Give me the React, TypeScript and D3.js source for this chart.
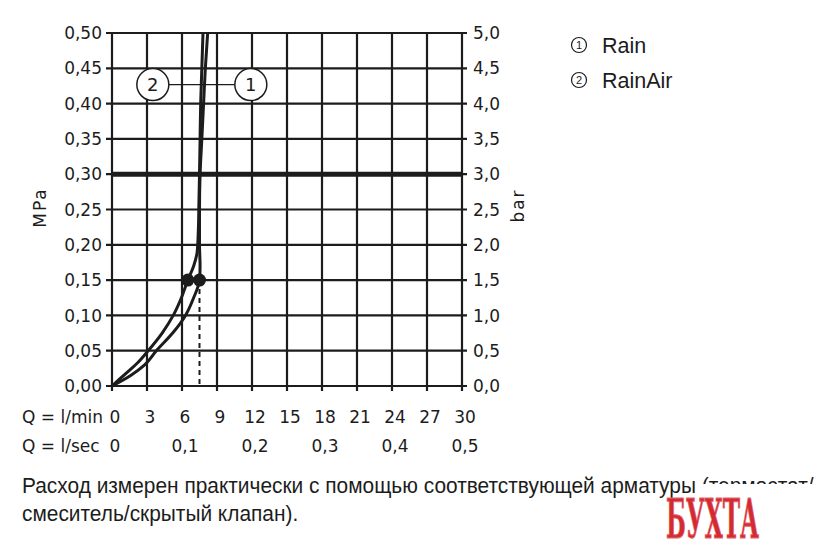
import React from "react";
import * as d3 from "d3";

const pressureTicks = [0, 0.05, 0.1, 0.15, 0.2, 0.25, 0.3, 0.35, 0.4, 0.45, 0.5];
const mpaLabels = ["0,00", "0,05", "0,10", "0,15", "0,20", "0,25", "0,30", "0,35", "0,40", "0,45", "0,50"];
const barLabels = ["0,0", "0,5", "1,0", "1,5", "2,0", "2,5", "3,0", "3,5", "4,0", "4,5", "5,0"];
const flowTicks = [0, 3, 6, 9, 12, 15, 18, 21, 24, 27, 30];
const flowLabels = ["0", "3", "6", "9", "12", "15", "18", "21", "24", "27", "30"];
const secTicks = [0, 0.1, 0.2, 0.3, 0.4, 0.5];
const secLabels = ["0", "0,1", "0,2", "0,3", "0,4", "0,5"];
const thickLine = 0.3;

// [flow l/min, pressure MPa]
const rainAir: [number, number][] = [
  [0, 0], [1.2, 0.018], [2.2, 0.033], [3.1, 0.05], [4.3, 0.075], [5.25, 0.1],
  [5.95, 0.125], [6.5, 0.15], [7.0, 0.17], [7.3, 0.19], [7.4, 0.22], [7.45, 0.26],
  [7.5, 0.3], [7.55, 0.35], [7.6, 0.4], [7.7, 0.45], [7.8, 0.5],
];
const rain: [number, number][] = [
  [0, 0], [1.6, 0.015], [2.8, 0.03], [3.8, 0.05], [5.2, 0.075], [6.3, 0.1],
  [7.0, 0.125], [7.5, 0.15], [7.55, 0.17], [7.5, 0.2], [7.5, 0.25], [7.55, 0.3],
  [7.7, 0.35], [7.85, 0.4], [8.0, 0.45], [8.2, 0.5],
];
const markers: [number, number][] = [[6.5, 0.15], [7.5, 0.15]];
const dashedAt: [number, number] = [7.5, 0.15];

const legendItems = [{ n: "1", label: "Rain" }, { n: "2", label: "RainAir" }];
const callouts = [{ n: "2", q: 3.5, p: 0.427 }, { n: "1", q: 11.9, p: 0.427 }];
const captionLines = [
  "Расход измерен практически с помощью соответствующей арматуры (термостат/",
  "смеситель/скрытый клапан).",
];

const W = 840, H = 550;
const INK = "#1c1c1c";
const tickFont = "'DejaVu Sans', sans-serif";
const textFont = "'Liberation Sans', Arial, sans-serif";

export default function App() {
  const x = d3.scaleLinear().domain([0, 30]).range([112, 462]);
  const y = d3.scaleLinear().domain([0, 0.5]).range([386, 33]);
  const line = d3.line<[number, number]>()
    .x((d) => x(d[0]))
    .y((d) => y(d[1]))
    .curve(d3.curveMonotoneY);

  return (
    <svg width={W} height={H} style={{ position: "absolute", left: 0, top: 0, background: "#fff" }}>
      <rect x={0} y={0} width={W} height={H} fill="#fff" />
      {/* vertical grid */}
      {flowTicks.map((q) => (
        <line key={"v" + q} x1={x(q)} x2={x(q)} y1={y(0.5)} y2={y(0) + 5} stroke={INK} strokeWidth={2.2} />
      ))}
      {/* horizontal grid */}
      {pressureTicks.map((p) => (
        <line key={"h" + p} x1={x(0) - 6} x2={x(30) + 5} y1={y(p)} y2={y(p)} stroke={INK} strokeWidth={2.2} />
      ))}
      <line x1={x(0)} x2={x(30)} y1={y(thickLine)} y2={y(thickLine)} stroke={INK} strokeWidth={5} />

      {/* left labels */}
      {pressureTicks.map((p, i) => (
        <text key={"l" + p} x={x(0) - 10} y={y(p)} dy="0.36em" textAnchor="end" fontFamily={tickFont} fontSize={17} fill={INK}>
          {mpaLabels[i]}
        </text>
      ))}
      {pressureTicks.map((p, i) => (
        <text key={"r" + p} x={x(30) + 11} y={y(p)} dy="0.36em" textAnchor="start" fontFamily={tickFont} fontSize={17} fill={INK}>
          {barLabels[i]}
        </text>
      ))}
      <text transform={`translate(46,${y(0.25) - 2}) rotate(-90)`} textAnchor="middle" fontFamily={tickFont} fontSize={17} letterSpacing={2} fill={INK}>MPa</text>
      <text transform={`translate(524,${y(0.25) - 4}) rotate(-90)`} textAnchor="middle" fontFamily={tickFont} fontSize={17} letterSpacing={2} fill={INK}>bar</text>

      {/* bottom labels */}
      <text x={22} y={417} dy="0.36em" fontFamily={tickFont} fontSize={17} fill={INK}>Q = l/min</text>
      <text x={22} y={446} dy="0.36em" fontFamily={tickFont} fontSize={17} fill={INK}>Q = l/sec</text>
      {flowTicks.map((q, i) => (
        <text key={"b" + q} x={x(q) + 3} y={417} dy="0.36em" textAnchor="middle" fontFamily={tickFont} fontSize={17} fill={INK}>
          {flowLabels[i]}
        </text>
      ))}
      {secTicks.map((s, i) => (
        <text key={"s" + s} x={x(s * 60) + 3} y={446} dy="0.36em" textAnchor="middle" fontFamily={tickFont} fontSize={17} fill={INK}>
          {secLabels[i]}
        </text>
      ))}

      {/* dashed line */}
      <line x1={x(dashedAt[0])} x2={x(dashedAt[0])} y1={y(dashedAt[1])} y2={y(0)} stroke={INK} strokeWidth={2} strokeDasharray="5,4" />

      {/* callouts */}
      <line x1={x(callouts[0].q) + 16} x2={x(callouts[1].q) - 16} y1={y(callouts[0].p)} y2={y(callouts[1].p)} stroke={INK} strokeWidth={1.3} />
      {callouts.map((c) => (
        <g key={"c" + c.n}>
          <circle cx={x(c.q)} cy={y(c.p)} r={16} fill="#fff" stroke={INK} strokeWidth={1.5} />
          <text x={x(c.q)} y={y(c.p)} dy="0.36em" textAnchor="middle" fontFamily={tickFont} fontSize={18} fill={INK}>{c.n}</text>
        </g>
      ))}

      {/* curves */}
      <path d={line(rainAir) || ""} fill="none" stroke={INK} strokeWidth={3} />
      <path d={line(rain) || ""} fill="none" stroke={INK} strokeWidth={3} />
      {markers.map((m, i) => (
        <circle key={"m" + i} cx={x(m[0])} cy={y(m[1])} r={6.5} fill={INK} />
      ))}

      {/* legend */}
      {legendItems.map((it, i) => (
        <g key={"lg" + it.n} transform={`translate(579,${45 + i * 35})`}>
          <circle cx={0} cy={0} r={7.5} fill="none" stroke={INK} strokeWidth={1.2} />
          <text x={0} y={0} dy="0.36em" textAnchor="middle" fontFamily={textFont} fontSize={11} fill={INK}>{it.n}</text>
          <text x={23} y={0} dy="0.36em" fontFamily={textFont} fontSize={21.5} fill={INK}>{it.label}</text>
        </g>
      ))}

      {/* caption */}
      {captionLines.map((t, i) => (
        <text key={"cap" + i} transform={`translate(22,${493 + i * 27.5}) scale(0.95,1)`} x={0} y={0} fontFamily={textFont} fontSize={22} fill={INK}>{t}</text>
      ))}

      {/* watermark */}
      <rect x={697} y={484} width={140} height={64} fill="#fff" />
      <text x={712.5} y={538} textAnchor="middle" fontFamily="'DejaVu Serif', serif" fontWeight="bold" fontSize={55}
        textLength={93} lengthAdjust="spacingAndGlyphs" fill="#d42a32" stroke="#e06a70" strokeWidth={1}>БУХТА</text>
    </svg>
  );
}
